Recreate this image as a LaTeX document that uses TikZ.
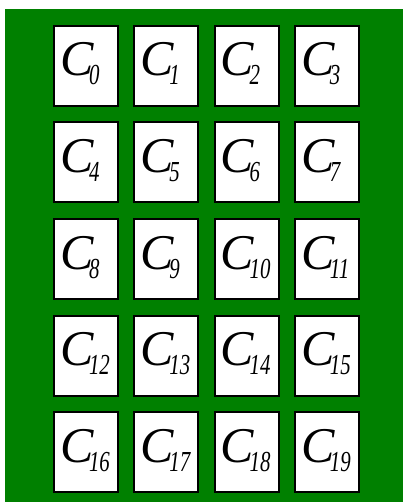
\documentclass[tikz,border=0pt]{standalone}
\usepackage{fontspec}
\usepackage{graphicx}
\setmainfont{Liberation Serif}
\definecolor{felt}{HTML}{008000}
\tikzset{
  card/.style={draw=black, fill=white, line width=2pt, rectangle, minimum width=64pt, minimum height=80pt, inner sep=0pt},
  cardlabel/.style={anchor=base west, inner sep=0pt, text=black}
}
\newcommand{\cardtext}[1]{{\fontsize{50}{50}\selectfont\itshape C}\kern-4.5pt\raisebox{-9pt}{\fontsize{29}{29}\selectfont\itshape\scalebox{0.72}[1]{#1}}}
\begin{document}
\begin{tikzpicture}[x=1pt,y=-1pt]
\useasboundingbox (0,0) rectangle (403,502);
\fill[white] (0,0) rectangle (403,502);
\fill[felt] (5,9) rectangle (403,502);
\foreach \r in {0,...,4}{
  \foreach \c in {0,...,3}{
    \pgfmathtruncatemacro{\n}{4*\r+\c}
    \pgfmathsetmacro{\cx}{86+80.3*\c}
    \pgfmathsetmacro{\cy}{66+96.5*\r}
    \node[card] (c\n) at (\cx,\cy) {};
    \node[cardlabel] (l\n) at (\cx-26,\cy+10) {\cardtext{\n}};
  }
}
\end{tikzpicture}
\end{document}
